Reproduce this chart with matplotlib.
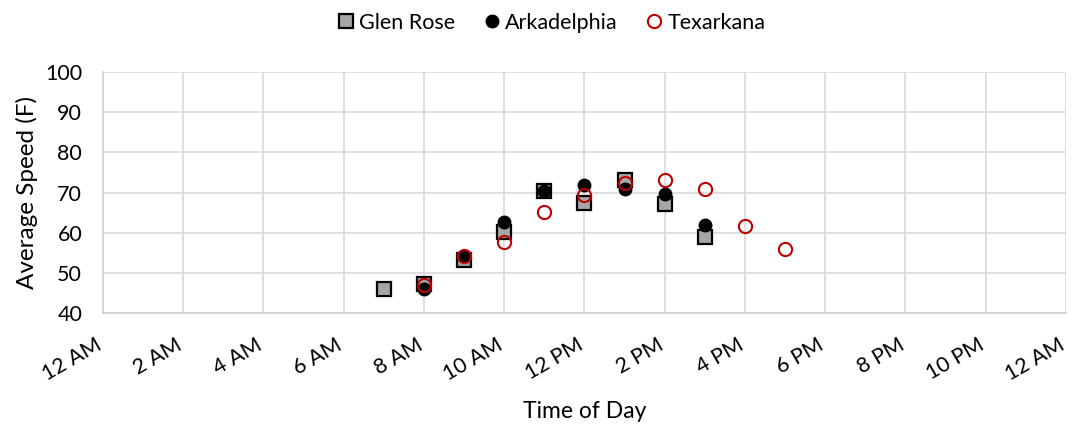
import matplotlib
matplotlib.use("Agg")
import matplotlib.pyplot as plt
import matplotlib.transforms as mtransforms

plt.rcParams['font.family'] = ['Lato', 'DejaVu Sans']

glen_hours = [7, 8, 9, 10, 11, 12, 13, 14, 15]
glen_speed = [46.0, 47.3, 53.2, 60.2, 70.4, 67.4, 73.1, 67.1, 59.0]

ark_hours = [8, 9, 10, 11, 12, 13, 14, 15]
ark_speed = [46.1, 54.2, 62.7, 70.4, 72.0, 71.0, 69.7, 61.9]

tex_hours = [8, 9, 10, 11, 12, 13, 14, 15, 16, 17]
tex_speed = [47.0, 54.3, 57.7, 65.2, 69.5, 72.3, 73.2, 71.0, 61.7, 55.9]

tick_hours = list(range(0, 25, 2))
tick_labels = ["12 AM", "2 AM", "4 AM", "6 AM", "8 AM", "10 AM", "12 PM",
               "2 PM", "4 PM", "6 PM", "8 PM", "10 PM", "12 AM"]

fig = plt.figure(figsize=(10.75, 4.29), dpi=100)
ax = fig.add_axes([0.0958, 0.2704, 0.8958, 0.5616])

ax.plot(glen_hours, glen_speed, linestyle='none', marker='s', markersize=10,
        markerfacecolor='#a6a6a6', markeredgecolor='black', markeredgewidth=1.6,
        label='Glen Rose', zorder=3)
ax.plot(ark_hours, ark_speed, linestyle='none', marker='o', markersize=9,
        markerfacecolor='black', markeredgecolor='black',
        label='Arkadelphia', zorder=4)
ax.plot(tex_hours, tex_speed, linestyle='none', marker='o', markersize=9.5,
        markerfacecolor='none', markeredgecolor='#c00000', markeredgewidth=1.5,
        label='Texarkana', zorder=5)

ax.set_xlim(0, 24)
ax.set_ylim(40, 100)
ax.set_xticks(tick_hours)
ax.set_xticklabels(tick_labels, rotation=30, ha='right', va='baseline',
                   rotation_mode='anchor')
offset = mtransforms.ScaledTranslation(4.5 / 100, 0, fig.dpi_scale_trans)
for lbl in ax.get_xticklabels():
    lbl.set_transform(lbl.get_transform() + offset)
ax.set_yticks(range(40, 101, 10))
ax.grid(True, color='#d9d9d9', linewidth=1.2)
ax.set_axisbelow(True)
for s in ['top', 'right']:
    ax.spines[s].set_visible(False)
for s in ['left', 'bottom']:
    ax.spines[s].set_color('#d0d0d0')
    ax.spines[s].set_linewidth(1.2)
ax.tick_params(axis='both', length=0, labelsize=15.5, colors='black')
ax.tick_params(axis='x', pad=25.5)
ax.tick_params(axis='y', pad=15)

ax.set_xlabel('Time of Day', fontsize=16.5, labelpad=12)
ax.set_ylabel('Average Speed (F)', fontsize=17.5, labelpad=5)

fig.legend(loc='upper center', bbox_to_anchor=(0.512, 1.015), ncol=3, frameon=False,
           fontsize=15.5, handletextpad=0.1, columnspacing=1.2, handlelength=1.0)

fig.savefig('out.png', dpi=100)
